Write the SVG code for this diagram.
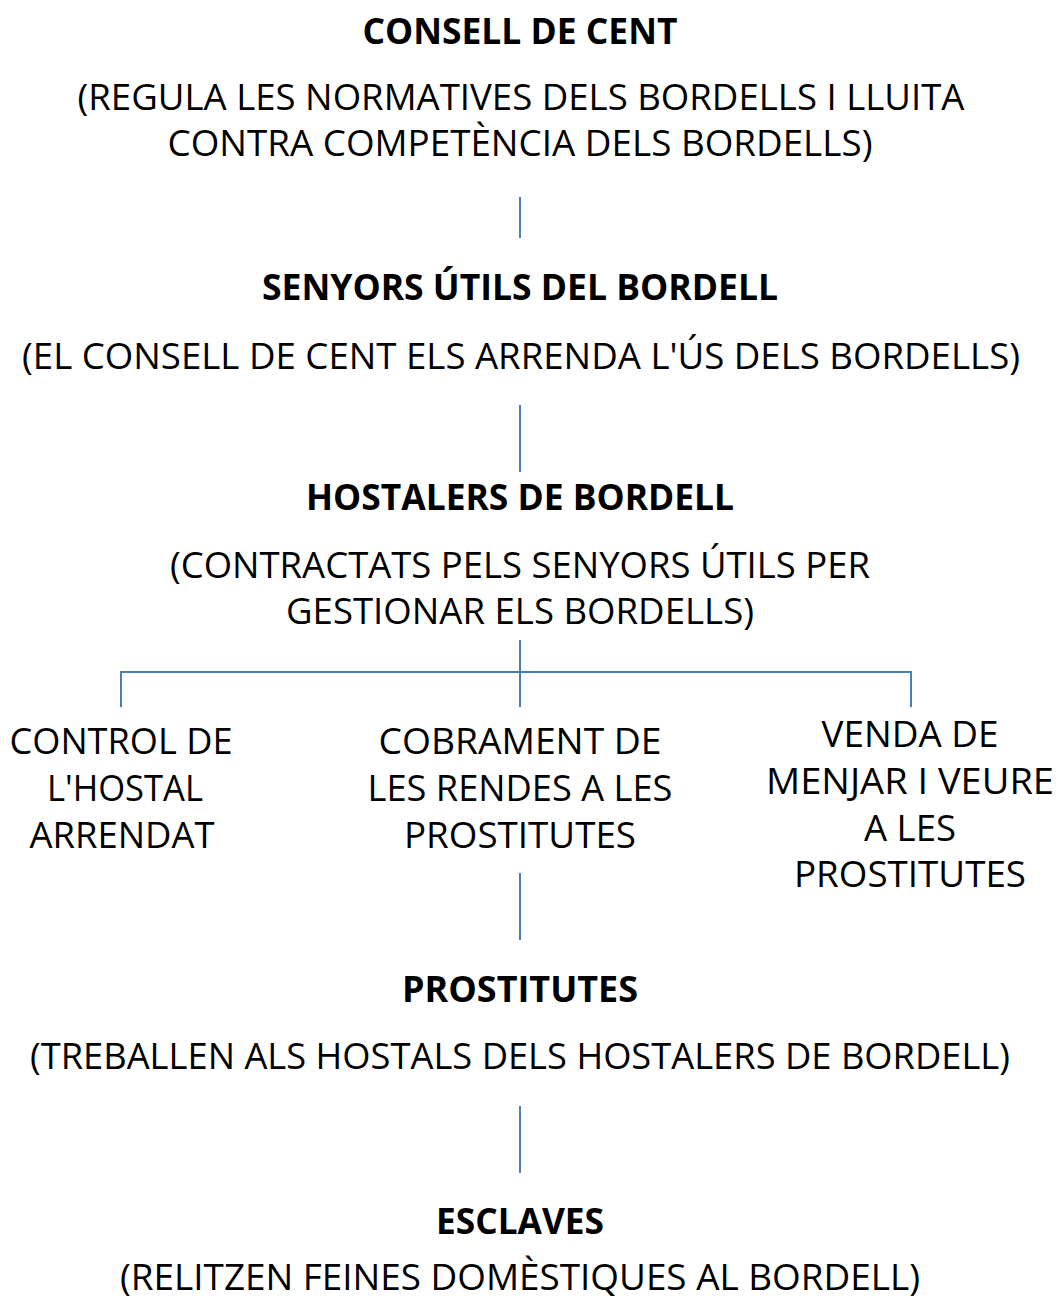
<svg xmlns="http://www.w3.org/2000/svg" width="1058" height="1303" viewBox="0 0 1058 1303">
<style>
text{font-family:"Open Sans","Liberation Sans",sans-serif;font-size:36px;fill:#000;text-anchor:middle}
.b{font-weight:bold}
.c{stroke:#4A7EBB;stroke-width:2;fill:none}
</style>
<rect width="1058" height="1303" fill="#fff"/>
<g id="connectors">
<line class="c" x1="520" y1="197" x2="520" y2="238"/>
<line class="c" x1="520" y1="405" x2="520" y2="472"/>
<path class="c" d="M520 640V707M121 707V672H911V707"/>
<line class="c" x1="520" y1="873" x2="520" y2="940"/>
<line class="c" x1="520" y1="1106" x2="520" y2="1173"/>
</g>
<g id="consell">
<text class="b" x="520" y="44" textLength="315" lengthAdjust="spacingAndGlyphs">CONSELL DE CENT</text>
<text x="521" y="110" textLength="887" lengthAdjust="spacingAndGlyphs">(REGULA LES NORMATIVES DELS BORDELLS I LLUITA</text>
<text x="520" y="156" textLength="705" lengthAdjust="spacingAndGlyphs">CONTRA COMPETÈNCIA DELS BORDELLS)</text>
</g>
<g id="senyors">
<text class="b" x="520" y="300" textLength="516" lengthAdjust="spacingAndGlyphs">SENYORS ÚTILS DEL BORDELL</text>
<text x="521" y="369" textLength="998" lengthAdjust="spacingAndGlyphs">(EL CONSELL DE CENT ELS ARRENDA L'ÚS DELS BORDELLS)</text>
</g>
<g id="hostalers">
<text class="b" x="520" y="510" textLength="428" lengthAdjust="spacingAndGlyphs">HOSTALERS DE BORDELL</text>
<text x="520" y="578" textLength="700" lengthAdjust="spacingAndGlyphs">(CONTRACTATS PELS SENYORS ÚTILS PER</text>
<text x="520" y="624" textLength="468" lengthAdjust="spacingAndGlyphs">GESTIONAR ELS BORDELLS)</text>
</g>
<g id="control">
<text x="121" y="754" textLength="223" lengthAdjust="spacingAndGlyphs">CONTROL DE</text>
<text x="125" y="801" textLength="156" lengthAdjust="spacingAndGlyphs">L'HOSTAL</text>
<text x="122" y="848" textLength="185" lengthAdjust="spacingAndGlyphs">ARRENDAT</text>
</g>
<g id="cobrament">
<text x="520" y="754" textLength="283" lengthAdjust="spacingAndGlyphs">COBRAMENT DE</text>
<text x="520" y="801" textLength="305" lengthAdjust="spacingAndGlyphs">LES RENDES A LES</text>
<text x="520" y="848" textLength="232" lengthAdjust="spacingAndGlyphs">PROSTITUTES</text>
</g>
<g id="venda">
<text x="910" y="747" textLength="177" lengthAdjust="spacingAndGlyphs">VENDA DE</text>
<text x="910" y="794" textLength="288" lengthAdjust="spacingAndGlyphs">MENJAR I VEURE</text>
<text x="910" y="841" textLength="92" lengthAdjust="spacingAndGlyphs">A LES</text>
<text x="910" y="887" textLength="232" lengthAdjust="spacingAndGlyphs">PROSTITUTES</text>
</g>
<g id="prostitutes">
<text class="b" x="520" y="1002" textLength="236" lengthAdjust="spacingAndGlyphs">PROSTITUTES</text>
<text x="520" y="1069" textLength="980" lengthAdjust="spacingAndGlyphs">(TREBALLEN ALS HOSTALS DELS HOSTALERS DE BORDELL)</text>
</g>
<g id="esclaves">
<text class="b" x="520" y="1234" textLength="168" lengthAdjust="spacingAndGlyphs">ESCLAVES</text>
<text x="520" y="1290" textLength="800" lengthAdjust="spacingAndGlyphs">(RELITZEN FEINES DOMÈSTIQUES AL BORDELL)</text>
</g>
</svg>
